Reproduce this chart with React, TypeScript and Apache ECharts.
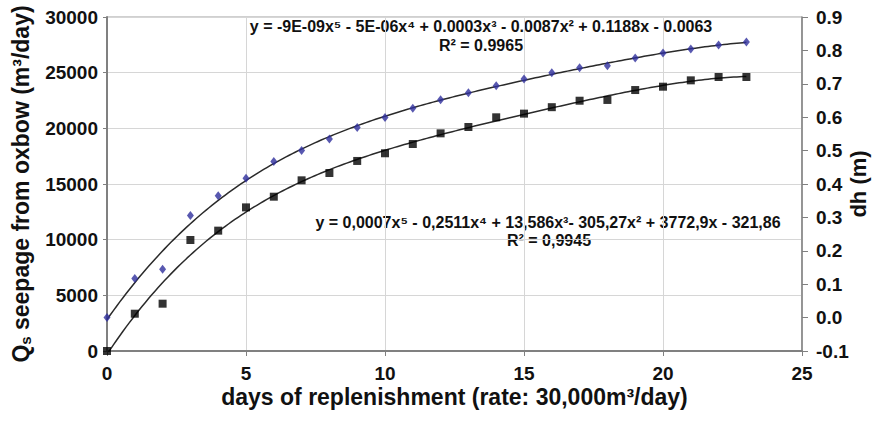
import React, { useEffect, useRef } from "react";
import * as echarts from "echarts";

const days = [0, 1, 2, 3, 4, 5, 6, 7, 8, 9, 10, 11, 12, 13, 14, 15, 16, 17, 18, 19, 20, 21, 22, 23];
const seepage = [0, 3350, 4250, 9970, 10810, 12900, 13860, 15330, 15990, 17070, 17760, 18590, 19550, 20120, 20990, 21320, 21900, 22480, 22550, 23440, 23740, 24310, 24610, 24610];
const dh = [0.0, 0.117, 0.145, 0.306, 0.365, 0.417, 0.467, 0.5, 0.535, 0.569, 0.599, 0.627, 0.652, 0.673, 0.694, 0.714, 0.733, 0.748, 0.754, 0.777, 0.792, 0.804, 0.816, 0.825];
const xTicks = { min: 0, max: 25, interval: 5 };
const leftTicks = { min: 0, max: 30000, interval: 5000 };
const rightTicks = { min: -0.1, max: 0.9, interval: 0.1 };
const eqDh = "y = -9E-09x\u2075 - 5E-06x\u2074 + 0.0003x\u00b3 - 0.0087x\u00b2 + 0.1188x - 0.0063";
const r2Dh = "R\u00b2 = 0.9965";
const eqQ = "y = 0,0007x\u2075 - 0,2511x\u2074 + 13,586x\u00b3- 305,27x\u00b2 + 3772,9x - 321,86";
const r2Q = "R\u00b2 = 0,9945";

// least-squares polynomial fit (degree 5), like the spreadsheet trendline
function polyFit(xs: number[], ys: number[], deg: number) {
  const s = Math.max(...xs);
  const n = deg + 1;
  const A: number[][] = [];
  for (let i = 0; i < n; i++) {
    A.push(new Array(n + 1).fill(0));
  }
  xs.forEach((xv, k) => {
    const t = xv / s;
    for (let i = 0; i < n; i++) {
      for (let j = 0; j < n; j++) A[i][j] += Math.pow(t, i + j);
      A[i][n] += ys[k] * Math.pow(t, i);
    }
  });
  for (let c = 0; c < n; c++) {
    let p = c;
    for (let r = c + 1; r < n; r++) if (Math.abs(A[r][c]) > Math.abs(A[p][c])) p = r;
    [A[c], A[p]] = [A[p], A[c]];
    for (let r = 0; r < n; r++) {
      if (r === c) continue;
      const f = A[r][c] / A[c][c];
      for (let k = c; k <= n; k++) A[r][k] -= f * A[c][k];
    }
  }
  const coef = A.map((row, i) => row[n] / row[i]);
  return (xv: number) => coef.reduce((acc, cv, i) => acc + cv * Math.pow(xv / s, i), 0);
}

function trend(xs: number[], ys: number[]) {
  const f = polyFit(xs, ys, 5);
  const out: number[][] = [];
  const last = xs[xs.length - 1];
  for (let i = 0; i <= 200; i++) {
    const xv = (last * i) / 200;
    out.push([xv, f(xv)]);
  }
  return out;
}

const FONT = '"Liberation Sans", Arial, sans-serif';
const INK = "#111111";

export default function App() {
  const ref = useRef<HTMLDivElement>(null);
  useEffect(() => {
    if (!ref.current) return;
    const chart = echarts.init(ref.current, null, { renderer: "svg" });
    const axisLabel = { fontFamily: FONT, fontWeight: "bold" as const, fontSize: 19, color: INK };
    const nameStyle = { fontFamily: FONT, fontWeight: "bold" as const, fontSize: 23, color: INK };
    chart.setOption({
      animation: false,
      backgroundColor: "#ffffff",
      textStyle: { fontFamily: FONT },
      grid: {
        left: 107,
        right: 77,
        top: 17,
        bottom: 70,
        outerBoundsMode: "none",
        containLabel: false,
        show: true,
        borderColor: "#a0a0a0",
        borderWidth: 1,
      },
      xAxis: {
        type: "value",
        ...xTicks,
        name: "days of replenishment (rate: 30,000m\u00b3/day)",
        nameLocation: "middle",
        nameGap: 34,
        nameMoveOverlap: false,
        nameTextStyle: nameStyle,
        axisLine: { show: true, lineStyle: { color: "#808080", width: 2 } },
        axisTick: { show: true, length: 5, lineStyle: { color: "#808080" } },
        axisLabel: { ...axisLabel, margin: 13 },
        splitLine: { show: true, lineStyle: { color: "#d6d6d6", width: 1 } },
      },
      yAxis: [
        {
          type: "value",
          ...leftTicks,
          position: "left",
          name: "{q|Q}{s|s}{t| seepage from oxbow (m\u00b3/day)}",
          nameLocation: "middle",
          nameRotate: 90,
          nameGap: 74,
          nameMoveOverlap: false,
          nameTextStyle: {
            ...nameStyle,
            rich: {
              q: { ...nameStyle },
              s: { fontFamily: FONT, fontWeight: "bold", fontSize: 15, color: INK, padding: [10, 0, 0, 0] },
              t: { ...nameStyle },
            },
          },
          axisLine: { show: true, lineStyle: { color: "#808080", width: 2 } },
          axisTick: { show: true, length: 4, lineStyle: { color: "#808080" } },
          axisLabel: { ...axisLabel, margin: 9, formatter: (v: number) => String(v) },
          splitLine: { show: true, lineStyle: { color: "#d6d6d6", width: 1 } },
        },
        {
          type: "value",
          ...rightTicks,
          position: "right",
          name: "dh (m)",
          nameLocation: "middle",
          nameRotate: 90,
          nameGap: 45,
          nameMoveOverlap: false,
          nameTextStyle: { ...nameStyle, fontSize: 22 },
          axisLine: { show: true, lineStyle: { color: "#808080", width: 1.5 } },
          axisTick: { show: true, length: 6, lineStyle: { color: "#808080" } },
          axisLabel: { ...axisLabel, margin: 14, formatter: (v: number) => v.toFixed(1) },
          splitLine: { show: false },
        },
      ],
      series: [
        {
          name: "dh fit",
          type: "line",
          yAxisIndex: 1,
          data: trend(days, dh),
          showSymbol: false,
          symbol: "none",
          lineStyle: { color: "#2a2a2a", width: 1.5 },
          clip: true,
          z: 2,
        },
        {
          name: "Q fit",
          type: "line",
          yAxisIndex: 0,
          data: trend(days, seepage),
          showSymbol: false,
          symbol: "none",
          lineStyle: { color: "#2a2a2a", width: 1.5 },
          clip: true,
          z: 2,
        },
        {
          name: "dh",
          type: "scatter",
          yAxisIndex: 1,
          data: days.map((d, i) => [d, dh[i]]),
          symbol: "diamond",
          symbolSize: [7, 9],
          itemStyle: { color: "#2e2e9c" },
          z: 3,
        },
        {
          name: "Qs",
          type: "scatter",
          yAxisIndex: 0,
          data: days.map((d, i) => [d, seepage[i]]),
          symbol: "rect",
          symbolSize: 8,
          itemStyle: { color: "#000000" },
          clip: false,
          z: 3,
        },
      ],
      graphic: [
        {
          type: "text",
          x: 481,
          y: 26,
          style: { text: eqDh, font: `bold 16px ${FONT}`, fill: INK, textAlign: "center", textVerticalAlign: "middle" },
        },
        {
          type: "text",
          x: 481,
          y: 45,
          style: { text: r2Dh, font: `bold 16px ${FONT}`, fill: INK, textAlign: "center", textVerticalAlign: "middle" },
        },
        {
          type: "text",
          x: 548,
          y: 222,
          style: { text: eqQ, font: `bold 16px ${FONT}`, fill: INK, textAlign: "center", textVerticalAlign: "middle" },
        },
        {
          type: "text",
          x: 549,
          y: 240,
          style: { text: r2Q, font: `bold 16px ${FONT}`, fill: INK, textAlign: "center", textVerticalAlign: "middle" },
        },
      ],
    });
    return () => chart.dispose();
  }, []);
  return <div ref={ref} style={{ position: "fixed", left: 0, top: 0, width: 879, height: 421 }} />;
}
